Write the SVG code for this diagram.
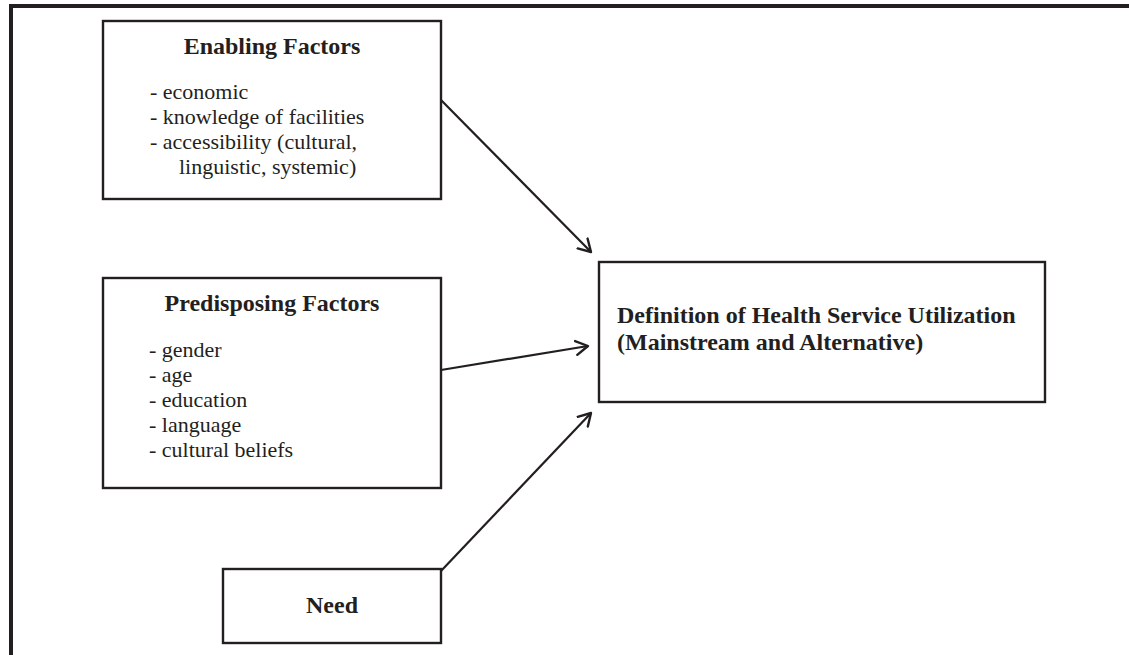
<svg xmlns="http://www.w3.org/2000/svg" width="1129" height="655" viewBox="0 0 1129 655">
<defs>
<style>
.box{fill:#fff;stroke:#231f20;stroke-width:2.4}
.frame{stroke:#231f20;stroke-width:4;fill:none}
.conn{stroke:#231f20;stroke-width:2.2;fill:none}
.t{font-family:"Liberation Serif","Times New Roman",serif;fill:#231f20}
.b{font-weight:bold;font-size:24px}
.r{font-size:22px}
</style>
<marker id="arr" markerUnits="userSpaceOnUse" markerWidth="20" markerHeight="20" refX="13" refY="8" orient="auto" viewBox="0 0 20 16">
<path d="M1,1 L13,8 L1,15" fill="none" stroke="#231f20" stroke-width="2.4" stroke-linecap="round" stroke-linejoin="round"/>
</marker>
</defs>
<rect width="1129" height="655" fill="#fff"/>
<g id="frame">
<line class="frame" x1="9" y1="6" x2="1129" y2="6"/>
<line class="frame" x1="11" y1="4" x2="11" y2="655"/>
</g>
<g id="connectors">
<line class="conn" x1="441" y1="100" x2="591" y2="252" marker-end="url(#arr)"/>
<line class="conn" x1="441" y1="370" x2="588" y2="346" marker-end="url(#arr)"/>
<line class="conn" x1="441" y1="571" x2="591" y2="413" marker-end="url(#arr)"/>
</g>
<g id="enabling">
<rect class="box" x="103" y="21" width="338" height="178"/>
<text class="t b" x="272" y="54" text-anchor="middle">Enabling Factors</text>
<text class="t r" x="150" y="99">- economic</text>
<text class="t r" x="150" y="124">- knowledge of facilities</text>
<text class="t r" x="150" y="149">- accessibility (cultural,</text>
<text class="t r" x="179" y="174">linguistic, systemic)</text>
</g>
<g id="predisposing">
<rect class="box" x="103" y="278" width="338" height="210"/>
<text class="t b" x="272" y="311" text-anchor="middle">Predisposing Factors</text>
<text class="t r" x="149" y="356.5">- gender</text>
<text class="t r" x="149" y="381.5">- age</text>
<text class="t r" x="149" y="406.5">- education</text>
<text class="t r" x="149" y="431.5">- language</text>
<text class="t r" x="149" y="456.5">- cultural beliefs</text>
</g>
<g id="definition">
<rect class="box" x="599" y="262" width="446" height="140"/>
<text class="t b" x="617" y="323">Definition of Health Service Utilization</text>
<text class="t b" x="617" y="350">(Mainstream and Alternative)</text>
</g>
<g id="need">
<rect class="box" x="223" y="569" width="218" height="74"/>
<text class="t b" x="332" y="613" text-anchor="middle">Need</text>
</g>
</svg>
